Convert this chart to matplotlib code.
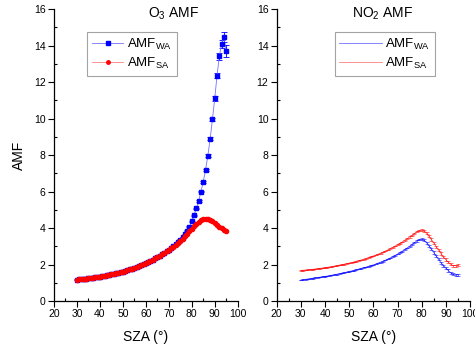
import numpy as np
import matplotlib
matplotlib.use('Agg')
import matplotlib.pyplot as plt
from matplotlib.ticker import MultipleLocator
from matplotlib.lines import Line2D

# %%
# Data (SZA in degrees, 30..95 step 1)
sza = list(range(30, 96))

o3_wa = [1.17, 1.18, 1.20, 1.21, 1.23, 1.25, 1.26, 1.28, 1.30, 1.32,
         1.34, 1.36, 1.38, 1.41, 1.43, 1.46, 1.49, 1.52, 1.55, 1.58,
         1.61, 1.65, 1.69, 1.73, 1.77, 1.81, 1.86, 1.91, 1.96, 2.01,
         2.07, 2.13, 2.19, 2.26, 2.33, 2.40, 2.48, 2.56, 2.65, 2.74,
         2.80, 2.90, 3.01, 3.12, 3.24, 3.37, 3.51, 3.66, 3.85, 4.08,
         4.38, 4.71, 5.08, 5.48, 6.00, 6.54, 7.18, 7.96, 8.88, 9.95,
         11.10, 12.35, 13.40, 14.10, 14.45, 13.70]
o3_wa_err = [0.02] * 50 + [0.03, 0.03, 0.04, 0.04, 0.05, 0.05, 0.06,
                            0.07, 0.08, 0.10, 0.12, 0.15, 0.18, 0.22,
                            0.28, 0.35]
o3_sa = [1.17, 1.18, 1.20, 1.21, 1.23, 1.25, 1.26, 1.28, 1.30, 1.32,
         1.34, 1.36, 1.38, 1.41, 1.43, 1.46, 1.49, 1.52, 1.55, 1.58,
         1.61, 1.65, 1.69, 1.73, 1.77, 1.81, 1.86, 1.91, 1.96, 2.01,
         2.07, 2.13, 2.19, 2.26, 2.33, 2.40, 2.48, 2.56, 2.65, 2.74,
         2.78, 2.88, 2.98, 3.09, 3.20, 3.30, 3.42, 3.55, 3.68, 3.82,
         3.96, 4.10, 4.22, 4.33, 4.42, 4.48, 4.50, 4.49, 4.44, 4.36,
         4.27, 4.18, 4.08, 3.98, 3.90, 3.85]
o3_sa_err = [0.02] * 66

no2_wa = [1.15, 1.17, 1.19, 1.21, 1.23, 1.25, 1.27, 1.29, 1.31, 1.33,
          1.35, 1.37, 1.40, 1.42, 1.45, 1.47, 1.50, 1.53, 1.56, 1.59,
          1.62, 1.65, 1.68, 1.72, 1.75, 1.79, 1.82, 1.86, 1.90, 1.94,
          1.98, 2.03, 2.08, 2.13, 2.18, 2.24, 2.30, 2.36, 2.43, 2.50,
          2.57, 2.65, 2.73, 2.82, 2.91, 3.00, 3.10, 3.20, 3.29, 3.36,
          3.38, 3.33, 3.20, 3.03, 2.85, 2.66, 2.47, 2.28, 2.10, 1.94,
          1.80, 1.67, 1.55, 1.46, 1.42, 1.44]
no2_sa = [1.68, 1.69, 1.70, 1.71, 1.73, 1.74, 1.76, 1.77, 1.79, 1.81,
          1.83, 1.85, 1.87, 1.89, 1.92, 1.94, 1.97, 1.99, 2.02, 2.05,
          2.08, 2.11, 2.14, 2.18, 2.21, 2.25, 2.29, 2.33, 2.37, 2.42,
          2.47, 2.52, 2.57, 2.62, 2.68, 2.74, 2.80, 2.87, 2.94, 3.01,
          3.08, 3.16, 3.24, 3.33, 3.42, 3.51, 3.60, 3.70, 3.79, 3.86,
          3.89, 3.84, 3.72, 3.55, 3.37, 3.18, 2.98, 2.79, 2.60, 2.42,
          2.27, 2.13, 2.01, 1.94, 1.93, 1.97]
no2_err = [0.02] * 45 + [0.03] * 5 + [0.06] * 16

# %%
# Figure parameters
plt.rcParams['font.family'] = ['Liberation Sans', 'DejaVu Sans']
plt.rcParams['mathtext.default'] = 'regular'
tsize = 7.5
lsize = 10

blue = (0, 0, 1)
red = (1, 0, 0)
lblue = (0.45, 0.45, 1)
lred = (1, 0.5, 0.5)

fig = plt.figure(figsize=(4.75, 3.49), dpi=100)
ax1 = fig.add_axes([0.1137, 0.1375, 0.3867, 0.8367])
ax2 = fig.add_axes([0.5825, 0.1375, 0.4070, 0.8367])


def style_axis(ax):
    ax.set_xlim(20, 100)
    ax.set_ylim(0, 16)
    ax.xaxis.set_major_locator(MultipleLocator(10))
    ax.xaxis.set_minor_locator(MultipleLocator(5))
    ax.yaxis.set_major_locator(MultipleLocator(2))
    ax.yaxis.set_minor_locator(MultipleLocator(1))
    ax.spines['top'].set_visible(False)
    ax.spines['right'].set_visible(False)
    for s in ('left', 'bottom'):
        ax.spines[s].set_linewidth(0.9)
    ax.tick_params(which='major', direction='out', length=4, width=0.8,
                   labelsize=tsize, pad=2)
    ax.tick_params(which='minor', direction='in', length=2.5, width=0.8)
    ax.set_xlabel('SZA (°)', fontsize=lsize, labelpad=8)


def add_legend(ax, handles, x0, hlen):
    leg = ax.legend(handles=handles, loc='upper left',
                    bbox_to_anchor=(x0, 0.92), fontsize=9.5,
                    fancybox=False, edgecolor='0.55', handlelength=hlen,
                    borderpad=0.35, labelspacing=0.3, handletextpad=0.3,
                    borderaxespad=0)
    leg.get_frame().set_linewidth(0.8)


# %%
# Left panel: O3
style_axis(ax1)
ax1.errorbar(sza, o3_wa, yerr=o3_wa_err, color=lblue, ecolor=blue,
             marker='s', ms=2.8, mfc=blue, mec=blue, lw=0.6,
             elinewidth=0.6, capsize=2, capthick=0.6, zorder=3)
ax1.errorbar(sza, o3_sa, yerr=o3_sa_err, color=lred, ecolor=red,
             marker='o', ms=3.0, mfc=red, mec=red, lw=0.6,
             elinewidth=0.6, capsize=1.5, capthick=0.6, zorder=4)
ax1.set_ylabel('AMF', fontsize=lsize, labelpad=6)
ax1.text(0.65, 0.983, 'O$_3$ AMF', transform=ax1.transAxes, ha='center',
         va='center', fontsize=lsize)
h1 = [Line2D([], [], color=lblue, lw=0.6, marker='s', ms=2.5,
             mfc=blue, mec=blue, label='AMF$_{WA}$'),
      Line2D([], [], color=lred, lw=0.6, marker='o', ms=2.5,
             mfc=red, mec=red, label='AMF$_{SA}$')]
add_legend(ax1, h1, 0.18, 2.4)

# %%
# Right panel: NO2
style_axis(ax2)
ax2.errorbar(sza, no2_wa, yerr=no2_err, color=blue, lw=0.5, alpha=0.75,
             elinewidth=0.5, capsize=1.5, capthick=0.5)
ax2.errorbar(sza, no2_sa, yerr=no2_err, color=red, lw=0.5, alpha=0.75,
             elinewidth=0.5, capsize=1.5, capthick=0.5)
ax2.text(0.55, 0.983, 'NO$_2$ AMF', transform=ax2.transAxes, ha='center',
         va='center', fontsize=lsize)
h2 = [Line2D([], [], color=lblue, lw=0.6, label='AMF$_{WA}$'),
      Line2D([], [], color=lred, lw=0.6, label='AMF$_{SA}$')]
add_legend(ax2, h2, 0.30, 3.2)

plt.savefig('out.png', dpi=100)
plt.close()
